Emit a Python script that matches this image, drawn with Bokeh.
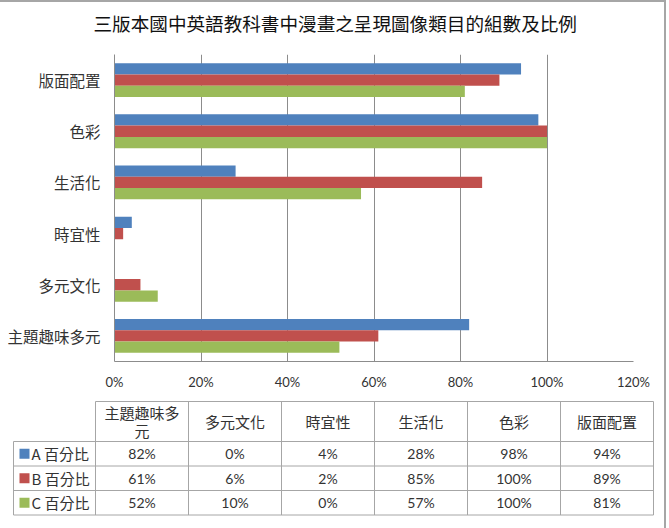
from bokeh.plotting import figure
from bokeh.layouts import column
from bokeh.models import ColumnDataSource, FactorRange, Range1d, Title
from bokeh.transform import dodge
from bokeh.core.properties import value
from bokeh.embed import file_html
from bokeh.resources import INLINE

# ---- data -------------------------------------------------------------
title_text = "三版本國中英語教科書中漫畫之呈現圖像類目的組數及比例"
categories = ["主題趣味多元", "多元文化", "時宜性", "生活化", "色彩", "版面配置"]
series_names = ["A 百分比", "B 百分比", "C 百分比"]
series_a = [82, 0, 4, 28, 98, 94]
series_b = [61, 6, 2, 85, 100, 89]
series_c = [52, 10, 0, 57, 100, 81]
x_ticks = [0, 20, 40, 60, 80, 100, 120]

colors = ["#4F81BD", "#C0504D", "#9BBB59"]
grid_color = "#8C8C8C"
table_line = "#A6A6A6"
text_color = "#333333"
cjk_font = "Noto Sans CJK TC"
num_font = "Lato"

series = [series_a, series_b, series_c]

# ---- bar chart --------------------------------------------------------
p = figure(
    width=664, height=390, title=None,
    x_range=Range1d(0, 120),
    y_range=FactorRange(*categories),
    output_backend="svg", toolbar_location=None,
    min_border_left=114, min_border_right=31,
    min_border_top=52, min_border_bottom=29,
    frame_align=False,
)
p.outline_line_color = None
p.background_fill_color = "white"
p.border_fill_color = "white"

src = ColumnDataSource(dict(cat=categories, a=series_a, b=series_b, c=series_c))
bar_h = 0.22
offsets = [bar_h, 0.0, -bar_h]
for key, off, col in zip(["a", "b", "c"], offsets, colors):
    p.hbar(y=dodge("cat", off, range=p.y_range), left=0, right=key,
           height=bar_h, source=src, fill_color=col, line_color=None)

# a thin spacer keeps the heading clear of the plot area
p.add_layout(Title(text=" ", text_font_size="1px", standoff=12), "above")
p.add_layout(Title(text=title_text, text_font=cjk_font, text_font_size="18.6px",
                   text_font_style="normal", text_color="#111111",
                   align="left", offset=-21, standoff=8), "above")

p.xaxis.ticker = x_ticks
p.xaxis.major_label_overrides = {t: f"{t}%" for t in x_ticks}
p.xaxis.major_label_text_font = num_font
p.xaxis.major_label_text_font_size = "13px"
p.xaxis.major_label_text_color = text_color
p.xaxis.major_label_standoff = 12
p.xaxis.axis_line_color = grid_color
p.xaxis.major_tick_line_color = None
p.xaxis.minor_tick_line_color = None
p.xaxis.major_tick_out = 0
p.xaxis.minor_tick_out = 0

p.yaxis.major_label_text_font = cjk_font
p.yaxis.major_label_text_font_size = "15.5px"
p.yaxis.major_label_text_color = text_color
p.yaxis.major_label_standoff = 14
p.yaxis.axis_line_color = grid_color
p.yaxis.major_tick_line_color = None
p.yaxis.minor_tick_line_color = None
p.yaxis.major_tick_out = 0
p.yaxis.minor_tick_out = 0

p.xgrid.grid_line_color = grid_color
p.ygrid.grid_line_color = None

# ---- data table under the chart ----------------------------------------
fig_w, fig_h = 664, 136
col_w = 93.0          # pixel width of one data column
first_col_px = 95.0   # left edge of the first data column
t = figure(
    width=fig_w, height=fig_h,
    x_range=Range1d(-first_col_px / col_w, (fig_w - first_col_px) / col_w),
    y_range=Range1d(fig_h, 0),
    output_backend="svg", toolbar_location=None,
    x_axis_location=None, y_axis_location=None,
    min_border=0, min_border_left=0, min_border_right=0,
    min_border_top=0, min_border_bottom=0,
    frame_align=False,
)
t.grid.visible = False
t.outline_line_color = None
t.border_fill_color = "white"

n = len(categories)
header_top, header_bot = 9, 49
row_h = 24.5
legend_left = (13 - first_col_px) / col_w
row_edges = [header_bot + row_h * i for i in range(len(series) + 1)]

xs, ys = [], []
# horizontal rules
xs.append([0, n]); ys.append([header_top, header_top])
for yv in row_edges:
    xs.append([legend_left, n]); ys.append([yv, yv])
# vertical rules
xs.append([legend_left, legend_left]); ys.append([row_edges[0], row_edges[-1]])
for i in range(n + 1):
    xs.append([i, i]); ys.append([header_top, row_edges[-1]])
t.multi_line(xs=xs, ys=ys, line_color=table_line, line_width=1)


def wrap(label, width=5):
    return label if len(label) <= width else label[:width] + "\n" + label[width:]


t.text(x=[i + 0.5 for i in range(n)], y=[(header_top + header_bot) / 2] * n,
       text=[wrap(c) for c in categories], text_align="center",
       text_baseline="middle", text_font=value(cjk_font),
       text_font_size="15px", text_color=text_color, text_line_height=0.85)

row_centers = [row_edges[i] + row_h / 2 for i in range(len(series))]
t.scatter(x=[(24 - first_col_px) / col_w] * len(series), y=row_centers,
          marker="square", size=10, fill_color=colors, line_color=None)
t.text(x=[(31 - first_col_px) / col_w] * len(series), y=row_centers,
       text=series_names, text_align="left", text_baseline="middle",
       text_font=value(cjk_font), text_font_size="15px", text_color=text_color)

vx, vy, vt = [], [], []
for r, vals in enumerate(series):
    for j, v in enumerate(vals):
        vx.append(j + 0.5); vy.append(row_centers[r]); vt.append(f"{v}%")
t.text(x=vx, y=vy, text=vt, text_align="center", text_baseline="middle",
       text_font=value(num_font), text_font_size="14px", text_color=text_color)

layout = column(p, t, spacing=0,
                styles={"border-top": "2px solid #A6A6A6",
                        "border-right": "2px solid #A6A6A6"})

open("out.html", "w").write(file_html(layout, INLINE))
